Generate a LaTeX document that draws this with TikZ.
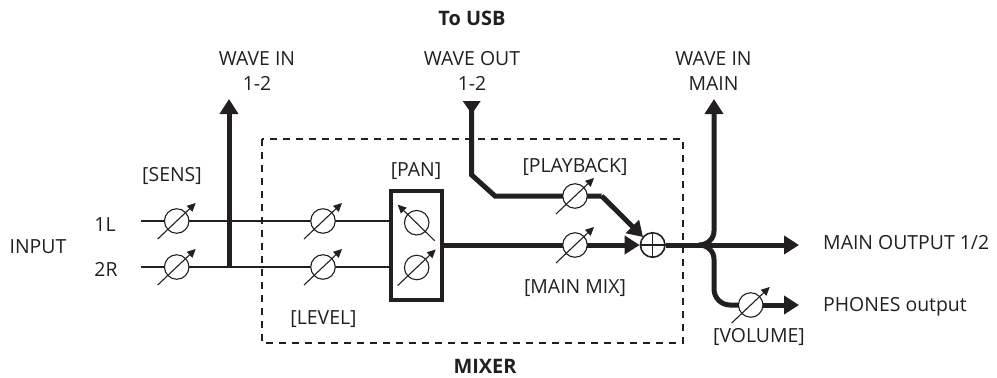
\documentclass[tikz,border=0pt]{standalone}
\usepackage{fontspec}
\setmainfont{Open Sans}
\usetikzlibrary{arrows.meta,calc}
\definecolor{ink}{HTML}{231F20}
\tikzset{
  x=1bp,y=-1bp,
  lbl/.style={font=\fontsize{19.5}{25}\selectfont,text=ink,inner sep=0pt,align=center},
  lblb/.style={lbl,font=\fontsize{20}{25}\selectfont\bfseries},
  gaincircle/.style={circle,draw=ink,line width=1.1bp,fill=white,minimum size=24.5bp,inner sep=0pt},
  thin line/.style={draw=ink,line width=2.4bp},
  thick line/.style={draw=ink,line width=5bp},
  head/.style={-{Triangle[length=15bp,width=18bp,fill=ink]}},
  dial/.style={draw=ink,line width=1.1bp,-{Triangle[length=8.5bp,width=8bp,fill=ink]}},
  mixer/.style={draw=ink,line width=2bp,dash pattern=on 7bp off 6bp},
}
\newcommand{\gaindial}[3]{%
  \node[gaincircle] (#1) at (#2,#3) {};
  \draw[dial] ($(#1)+(-19,18)$) -- ($(#1)+(19,-18)$);
}
\begin{document}
\begin{tikzpicture}
\useasboundingbox (0,0) rectangle (997,377);
% mixer frame
\coordinate (mA) at (262,139);
\coordinate (mC) at (683,343);
\draw[mixer] (mA) rectangle (mC);
% coordinates
\coordinate (in1) at (141,221);
\coordinate (in2) at (141,267);
\coordinate (waveT) at (229,99);
\coordinate (waveB) at (229,267);
\coordinate (outT) at (471.7,101);
\coordinate (outB1) at (471.7,175);
\coordinate (outB2) at (495,196);
\coordinate (pbB) at (601.7,196);
\coordinate (pbTip) at (643,237);
\coordinate (junc) at (699,245);
\coordinate (mainTip) at (799,245);
\coordinate (wiMain) at (714,99);
\coordinate (upKnee) at (714,231);
\coordinate (dnKnee) at (714,259);
\coordinate (phCorner) at (714,305);
\coordinate (phTip) at (799,305);
% pan box
\node[draw=ink,line width=3.2bp,minimum width=51bp,minimum height=109bp,inner sep=0pt] (pan) at (416.5,245.5) {};
% thin input lines
\coordinate (panL1) at (pan.west |- in1);
\coordinate (panL2) at (pan.west |- in2);
\draw[thin line] (in1) -- (panL1);
\draw[thin line] (in2) -- (panL2);
% wave in 1-2
\draw[thick line,head,shorten <=-1.2bp] (waveB) -- (waveT);
% main line
\node[circle,draw=ink,line width=1.6bp,fill=white,minimum size=24.5bp,inner sep=0pt] (sum) at (652.7,245) {};
\draw[thick line,head] (pan.east |- sum) -- (sum.west);
\draw[white,line width=1.5bp] (627.5,231.5) -- (642,237);
% wave out path
\draw[thick line,line join=miter] (outT) -- (outB1) -- (outB2) -- (pbB);
\draw[thick line,head] (pbB) -- (pbTip);
\fill[ink] (outT) ++(-9,0) -- ++(18,0) -- ++(-9,13) -- cycle;
% to outputs
\draw[thick line,head] (sum.east) -- (mainTip);
\draw[thick line,head] (junc) to[out=0,in=-90] (upKnee) -- (wiMain);
\draw[thick line] (junc) to[out=0,in=90] (dnKnee);
\draw[thick line,rounded corners=16bp] (dnKnee) -- (phCorner) -- (750,305);
\draw[thick line,head] (750,305) -- (phTip);
% sum cross
\draw[ink,line width=1.1bp] (sum.west) -- (sum.east) (sum.north) -- (sum.south);
% gains
\gaindial{gA}{176.7}{221}
\gaindial{gB}{176.7}{267}
\gaindial{gC}{323}{221}
\gaindial{gD}{323}{267}
\gaindial{gE}{416.7}{267.5}
\gaindial{gF}{575}{196}
\gaindial{gG}{575}{245}
\gaindial{gH}{750.7}{305}
\node[gaincircle] (gP) at (416.7,222.7) {};
\draw[dial] ($(gP)+(18,18)$) -- ($(gP)+(-19,-18)$);
% labels
\node[lblb] (tusb) at (472,18) {To USB};
\node[lbl] (wi12) at (257,71) {WAVE IN\\1-2};
\node[lbl] (wo12) at (472,71) {WAVE OUT\\1-2};
\node[lbl] (wim) at (713.5,71) {WAVE IN\\MAIN};
\node[lbl] (sens) at (172,176) {[SENS]};
\node[lbl] (pant) at (416,171) {[PAN]};
\node[lbl] (lev) at (323.5,319) {[LEVEL]};
\node[lbl] (pb) at (575,167) {[PLAYBACK]};
\node[lbl] (mm) at (575,288) {[MAIN MIX]};
\node[lbl] (vol) at (759,337) {[VOLUME]};
\node[lbl] (l1) at (105,225) {1L};
\node[lbl] (l2) at (106,269) {2R};
\node[lbl] (inp) at (38,247) {INPUT};
\node[lbl,anchor=west] (mo) at (823,243) {MAIN OUTPUT 1/2};
\node[lbl,anchor=west] (po) at (823,307) {PHONES output};
\node[lblb] (mx) at (485,366) {MIXER};
\end{tikzpicture}
\end{document}
